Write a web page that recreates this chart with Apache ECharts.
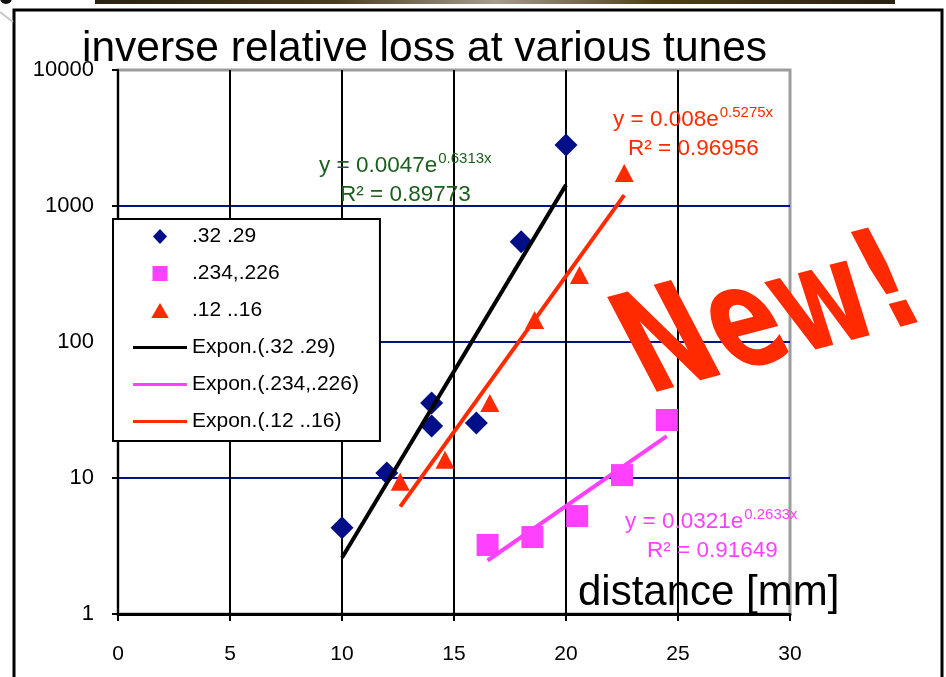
<!DOCTYPE html>
<html>
<head>
<meta charset="utf-8">
<script src="https://cdn.jsdelivr.net/npm/echarts@6/dist/echarts.min.js"></script>
<style>
  html, body { margin: 0; padding: 0; background: #ffffff; }
  #chart { width: 946px; height: 677px; }
</style>
</head>
<body>
<div id="chart"></div>
<script>
// Measured loss data at three tune settings (distance in mm, inverse relative loss)
const seriesNames = ['.32 .29', '.234,.226', '.12 ..16'];
const fitNames = ['Expon.(.32 .29)', 'Expon.(.234,.226)', 'Expon.(.12 ..16)'];

const distA = [10, 12, 14, 14, 16, 18, 20];
const lossA = [4.3, 10.9, 35.6, 24.1, 25.4, 545, 2810];

const distB = [16.5, 18.5, 20.5, 22.5, 24.5];
const lossB = [3.22, 3.68, 5.25, 10.5, 26.7];

const distC = [12.6, 14.6, 16.6, 18.6, 20.6, 22.6];
const lossC = [9.4, 13.6, 35.6, 145, 311, 1750];

// Exponential fits y = a * e^(b x) and their R² values
const fitCoefA = [0.0047, 0.6313];
const fitCoefB = [0.0321, 0.2633];
const fitCoefC = [0.008, 0.5275];
const rSquared = [0.89773, 0.91649, 0.96956];

const xTickValues = [0, 5, 10, 15, 20, 25, 30];
const yTickValues = [1, 10, 100, 1000, 10000];

const FONT = '"Liberation Sans", Arial, Helvetica, sans-serif';
const NAVY = '#000f88';
const GRID_NAVY = '#00148a';
const PINK = '#ff40ff';
const RED = '#ff2a00';
const GREEN = '#1c5e1c';

function zip(xs, ys) { return xs.map((x, i) => [x, ys[i]]); }

// Trend line across the x range of its data set
function fitLine(xs, coef) {
  const x0 = Math.min(...xs), x1 = Math.max(...xs);
  return [x0, x1].map(x => [x, coef[0] * Math.exp(coef[1] * x)]);
}

function eqText(coef) { return 'y = ' + coef[0] + 'e'; }
function eqPow(coef) { return coef[1] + 'x'; }
function r2Text(v) { return 'R² = ' + v; }

const measureCtx = document.createElement('canvas').getContext('2d');
function textWidth(text, size) {
  measureCtx.font = size + 'px ' + FONT;
  return measureCtx.measureText(text).width;
}

function txt(x, y, text, size, color) {
  return {
    type: 'text', x: x, y: y, z: 50,
    style: { text: text, fill: color, font: size + 'px ' + FONT, textAlign: 'left', textVerticalAlign: 'middle' }
  };
}

// Equation label: main text, raised exponent, and R² line below
function equation(x, y, coef, r2, r2x, color) {
  const main = eqText(coef);
  const w = textWidth(main, 22.5);
  return [
    txt(x, y, main, 22.5, color),
    txt(x + w + 1, y - 7, eqPow(coef), 15, color),
    txt(r2x, y + 29, r2Text(r2), 22.5, color)
  ];
}

// Legend marker shapes as paths so they keep their proportions
const ICON_DIAMOND = 'path://M7,0L14,7.5L7,15L0,7.5Z';
const ICON_SQUARE = 'path://M0,0H13V13H0Z';
const ICON_TRIANGLE = 'path://M7,0L14,12H0Z';
const ICON_LINE = 'path://M0,0H54V3H0Z';

const chart = echarts.init(document.getElementById('chart'), null, { renderer: 'canvas' });

const option = {
  backgroundColor: '#ffffff',
  animation: false,
  grid: {
    left: 118, right: 156, top: 70, bottom: 63,
    show: true, borderColor: '#9c9c9c', borderWidth: 3, backgroundColor: 'transparent'
  },
  xAxis: {
    type: 'value', min: 0, max: 30, interval: 5,
    axisLine: { show: true, lineStyle: { color: '#000', width: 3 } },
    axisTick: { show: true, length: 7, lineStyle: { color: '#000', width: 2 } },
    splitLine: { show: true, showMinLine: false, showMaxLine: false, lineStyle: { color: '#000', width: 2 } },
    axisLabel: {
      fontFamily: FONT, fontSize: 21, color: '#000', margin: 30,
      formatter: v => (xTickValues.indexOf(v) >= 0 ? String(v) : '')
    }
  },
  yAxis: {
    type: 'log', logBase: 10, min: 1, max: 10000,
    axisLine: { show: true, lineStyle: { color: '#000', width: 2 } },
    axisTick: { show: true, length: 6, lineStyle: { color: '#000', width: 2 } },
    splitLine: { show: true, showMinLine: false, showMaxLine: false, lineStyle: { color: GRID_NAVY, width: 2 } },
    axisLabel: {
      fontFamily: FONT, fontSize: 22, color: '#000', margin: 24, padding: [5, 0, 0, 0],
      formatter: v => (yTickValues.indexOf(v) >= 0 ? String(v) : '')
    }
  },
  legend: {
    orient: 'vertical', left: 113, top: 219,
    itemWidth: 54, itemHeight: 15, itemGap: 16,
    padding: [7, 21, 9, 20],
    symbolKeepAspect: true,
    backgroundColor: '#ffffff', borderColor: '#000', borderWidth: 2,
    selectedMode: false,
    textStyle: { fontFamily: FONT, fontSize: 21, color: '#000', lineHeight: 21 },
    data: [
      { name: seriesNames[0], icon: ICON_DIAMOND },
      { name: seriesNames[1], icon: ICON_SQUARE },
      { name: seriesNames[2], icon: ICON_TRIANGLE },
      { name: fitNames[0], icon: ICON_LINE },
      { name: fitNames[1], icon: ICON_LINE },
      { name: fitNames[2], icon: ICON_LINE }
    ]
  },
  series: [
    { name: seriesNames[0], type: 'scatter', symbol: 'diamond', symbolSize: 23,
      itemStyle: { color: NAVY, opacity: 1 }, data: zip(distA, lossA) },
    { name: seriesNames[1], type: 'scatter', symbol: 'rect', symbolSize: 22,
      itemStyle: { color: PINK, opacity: 1 }, data: zip(distB, lossB) },
    { name: seriesNames[2], type: 'scatter', symbol: 'triangle', symbolSize: [19, 18],
      itemStyle: { color: RED, opacity: 1 }, data: zip(distC, lossC) },
    { name: fitNames[0], type: 'line', symbol: 'none', showSymbol: false, lineStyle: { color: '#000', width: 4 },
      itemStyle: { color: '#000' }, data: fitLine(distA, fitCoefA) },
    { name: fitNames[1], type: 'line', symbol: 'none', showSymbol: false, lineStyle: { color: PINK, width: 4 },
      itemStyle: { color: PINK }, data: fitLine(distB, fitCoefB) },
    { name: fitNames[2], type: 'line', symbol: 'none', showSymbol: false, lineStyle: { color: RED, width: 4 },
      itemStyle: { color: RED }, data: fitLine(distC, fitCoefC) }
  ],
  graphic: [
    // slide frame and header strip
    { type: 'rect', z: 1, shape: { x: 14, y: 10, width: 928, height: 700 },
      style: { fill: 'none', stroke: '#000', lineWidth: 3 } },
    { type: 'rect', z: 1, shape: { x: 95, y: 0, width: 800, height: 4 },
      style: { fill: new echarts.graphic.LinearGradient(0, 0, 1, 0, [
        { offset: 0, color: '#2a2210' }, { offset: 0.3, color: '#4a3c1c' },
        { offset: 0.5, color: '#a89c8c' }, { offset: 0.7, color: '#4e3e18' },
        { offset: 1, color: '#2a2010' }]) } },
    { type: 'line', z: 1, shape: { x1: 0, y1: 12, x2: 13, y2: 22 },
      style: { stroke: '#c8c8c8', lineWidth: 2 } },
    { type: 'circle', z: 1, shape: { cx: 6, cy: -2, r: 6 }, style: { fill: '#111' } },

    // titles
    txt(82, 49, 'inverse relative loss at various tunes', 42.5, '#000'),
    txt(578, 593, 'distance [mm]', 42, '#000'),

    // fit equations
    ...equation(319, 166, fitCoefA, rSquared[0], 340, GREEN),
    ...equation(613, 120, fitCoefC, rSquared[2], 628, RED),
    ...equation(625, 522, fitCoefB, rSquared[1], 647, PINK),

    // stamp
    { type: 'text', x: 774, y: 322, z: 60, rotation: 0.26, scaleX: 0.78, scaleY: 1.1, skewX: 0.35,
      style: { text: 'New!', fill: RED, font: 'italic bold 130px "DejaVu Sans", sans-serif',
        textAlign: 'center', textVerticalAlign: 'middle' } }
  ]
};

chart.setOption(option);
</script>
</body>
</html>
